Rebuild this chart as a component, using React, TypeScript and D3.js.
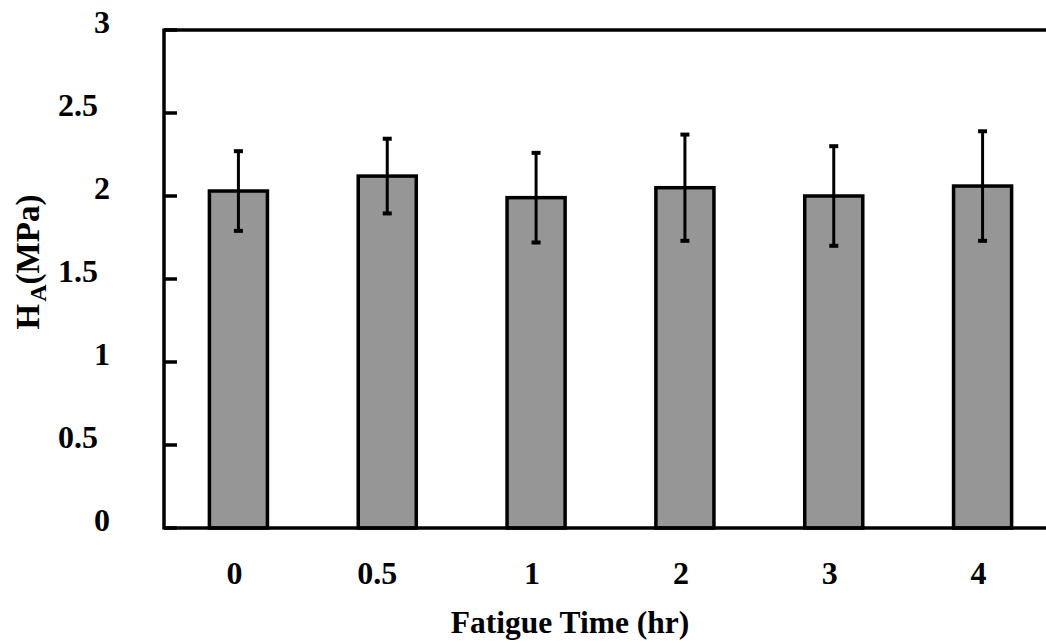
import React from "react";
import * as d3 from "d3";

// Hardness H_A over fatigue time, mean ± standard deviation
const categories: string[] = ["0", "0.5", "1", "2", "3", "4"];
const means: number[] = [2.03, 2.12, 1.99, 2.05, 2.0, 2.06];
const errors: number[] = [0.24, 0.225, 0.27, 0.32, 0.3, 0.33];
const yTicks: number[] = [0, 0.5, 1, 1.5, 2, 2.5, 3];

const W = 1046;
const H = 643;
const left = 164;
const top = 30;
const bottom = 528;
const right = 1057;

const FONT = "'Liberation Serif', 'Times New Roman', serif";

export default function App() {
  const y = d3.scaleLinear().domain([0, 3]).range([bottom, top]);
  const x = d3
    .scaleBand<string>()
    .domain(categories)
    .range([left, right])
    .paddingInner(0.61)
    .paddingOuter(0.305);
  const bw = x.bandwidth();

  return (
    <svg
      width={W}
      height={H}
      viewBox={`0 0 ${W} ${H}`}
      style={{ position: "absolute", left: 0, top: 0, background: "#fff" }}
      fontFamily={FONT}
      fontWeight="bold"
    >
      {/* bars */}
      {categories.map((c, i) => (
        <rect
          key={`bar-${c}`}
          x={x(c)!}
          y={y(means[i])}
          width={bw}
          height={y(0) - y(means[i])}
          fill="#969696"
          stroke="#000"
          strokeWidth={3.5}
        />
      ))}

      {/* error bars */}
      {categories.map((c, i) => {
        const cx = x(c)! + bw / 2;
        const hi = y(means[i] + errors[i]);
        const lo = y(means[i] - errors[i]);
        return (
          <g key={`err-${c}`} stroke="#000">
            <line x1={cx} x2={cx} y1={hi} y2={lo} strokeWidth={3} />
            <line x1={cx - 4.5} x2={cx + 4.5} y1={hi} y2={hi} strokeWidth={4} />
            <line x1={cx - 4.5} x2={cx + 4.5} y1={lo} y2={lo} strokeWidth={4} />
          </g>
        );
      })}

      {/* frame */}
      <line x1={left} x2={left} y1={top - 1.5} y2={bottom + 1.5} stroke="#000" strokeWidth={3.5} />
      <line x1={left} x2={W} y1={top} y2={top} stroke="#000" strokeWidth={3.5} />
      <line x1={left} x2={W} y1={bottom} y2={bottom} stroke="#000" strokeWidth={3.5} />

      {/* y ticks and labels */}
      {yTicks.map((t) => (
        <g key={`yt-${t}`}>
          <line x1={left} x2={left + 13} y1={y(t)} y2={y(t)} stroke="#000" strokeWidth={3.5} />
          <text
            x={Number.isInteger(t) ? 110 : 98}
            y={y(t) + 3}
            textAnchor="end"
            fontSize={32}
          >
            {String(t)}
          </text>
        </g>
      ))}

      {/* x labels */}
      {categories.map((c) => (
        <text
          key={`xl-${c}`}
          x={x(c)! + bw / 2 - (c.includes(".") ? 10 : 4)}
          y={584}
          textAnchor="middle"
          fontSize={32}
        >
          {c}
        </text>
      ))}

      {/* axis titles */}
      <text x={570} y={633} textAnchor="middle" fontSize={31.5}>
        Fatigue Time (hr)
      </text>
      <text
        transform="translate(39,262) rotate(-90)"
        textAnchor="middle"
        fontSize={33}
      >
        H
        <tspan fontSize={24} dy={7} dx={2}>A</tspan>
        <tspan dy={-7}>(MPa)</tspan>
      </text>
    </svg>
  );
}
